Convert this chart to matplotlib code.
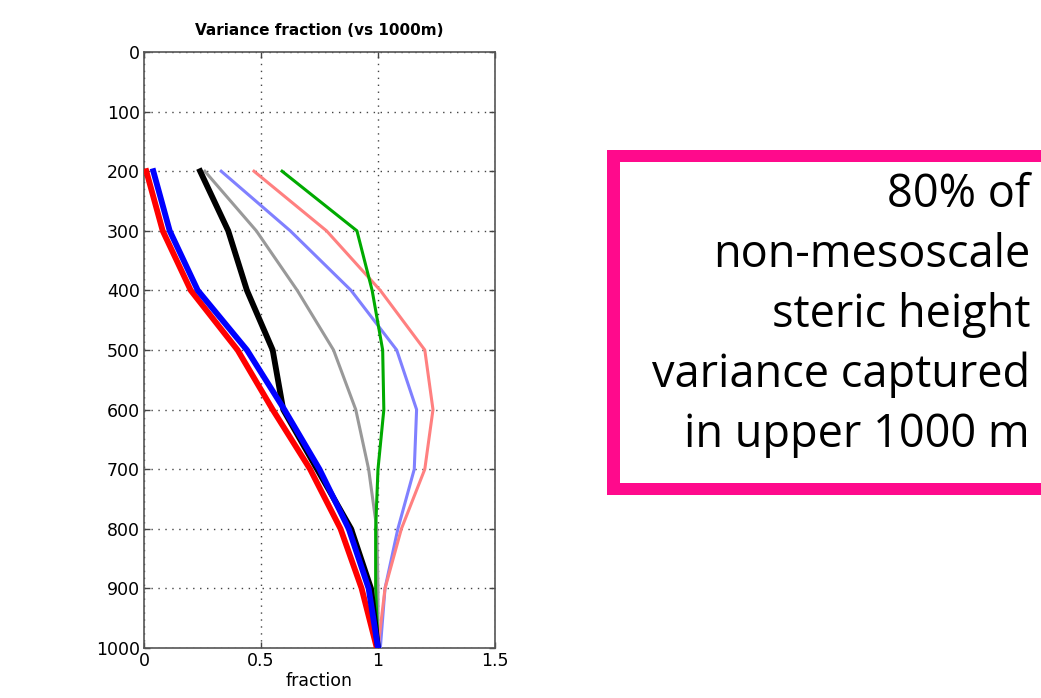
import matplotlib
matplotlib.use("Agg")
import matplotlib.pyplot as plt
from matplotlib.patches import Rectangle

depth = [200, 300, 400, 500, 600, 700, 800, 900, 1000]

gray = [0.26, 0.48, 0.655, 0.81, 0.905, 0.96, 0.995, 1.0, 1.0]
light_blue = [0.33, 0.625, 0.885, 1.08, 1.165, 1.155, 1.085, 1.03, 1.01]
pink = [0.47, 0.78, 1.01, 1.20, 1.235, 1.20, 1.10, 1.03, 1.0]
green = [0.59, 0.91, 0.975, 1.02, 1.025, 1.0, 0.99, 0.99, 1.0]
red = [0.01, 0.08, 0.20, 0.40, 0.55, 0.71, 0.84, 0.93, 0.995]
black = [0.24, 0.36, 0.44, 0.55, 0.595, 0.74, 0.885, 0.97, 1.0]
blue = [0.04, 0.11, 0.23, 0.44, 0.60, 0.75, 0.875, 0.96, 1.0]

xticks = [0, 0.5, 1, 1.5]
yticks = [0, 100, 200, 300, 400, 500, 600, 700, 800, 900, 1000]

title = "Variance fraction (vs 1000m)"
xlabel = "fraction"
box_lines = ["80% of", "non-mesoscale", "steric height", "variance captured", "in upper 1000 m"]

fig = plt.figure(figsize=(10.41, 6.98), dpi=100)
ax = fig.add_axes([0.1383, 0.0716, 0.3372, 0.8539])

ax.plot(gray, depth, color="#999999", lw=2.2, zorder=3)
ax.plot(light_blue, depth, color="#8080ff", lw=2.2, zorder=3)
ax.plot(pink, depth, color="#ff8080", lw=2.2, zorder=3)
ax.plot(green, depth, color="#00aa00", lw=2.2, zorder=3)
ax.plot(red, depth, color="#ff0000", lw=4.2, zorder=4)
ax.plot(black, depth, color="#000000", lw=4.2, zorder=5)
ax.plot(blue, depth, color="#0000ff", lw=4.2, zorder=6)

ax.set_xlim(0, 1.5)
ax.set_ylim(1000, 0)
ax.set_xticks(xticks)
ax.set_xticklabels(["0", "0.5", "1", "1.5"])
ax.set_yticks(yticks)
ax.tick_params(direction="in", length=4, width=1, top=True, right=True,
               labelsize=12.5, color="#444444", pad=3)
for s in ax.spines.values():
    s.set_color("#555555")
    s.set_linewidth(1.2)
ax.grid(True, linestyle=(0, (1, 4)), color="#444444", linewidth=1.0)
ax.set_axisbelow(True)
ax.set_title(title, fontsize=11, fontweight="bold", pad=12)
ax.set_xlabel(xlabel, fontsize=12.5, labelpad=1)

# Pink framed box (right edge runs off the figure): outer pink, inner white
W, H = 1041.0, 698.0
outer = Rectangle((607 / W, 1 - 495 / H), 0.5, (495 - 150) / H,
                  transform=fig.transFigure, facecolor="#ff0a8c",
                  edgecolor="none", linewidth=0, zorder=0)
inner = Rectangle((620 / W, 1 - 483 / H), 0.5, (483 - 162) / H,
                  transform=fig.transFigure, facecolor="white",
                  edgecolor="none", linewidth=0, zorder=0.5)
fig.patches.extend([outer, inner])

y0 = 1 - 207 / H
dy = 60 / H
for i, line in enumerate(box_lines):
    fig.text(1030 / W, y0 - i * dy, line, ha="right", va="baseline",
             fontsize=32.5, family=["Open Sans", "DejaVu Sans"], color="black",
             zorder=2)

fig.savefig("out.png", dpi=100)
